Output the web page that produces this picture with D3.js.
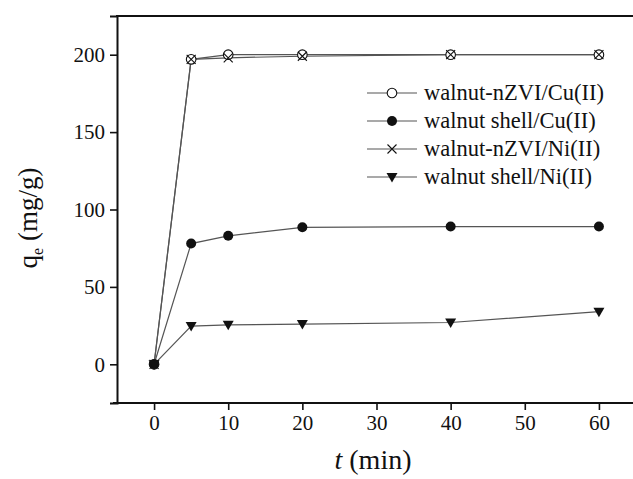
<!DOCTYPE html>
<html>
<head>
<meta charset="utf-8">
<script src="https://cdn.jsdelivr.net/npm/d3@7"></script>
<style>
  html, body { margin: 0; padding: 0; background: #fff; }
  svg { display: block; }
  svg text { font-family: "Liberation Serif", "DejaVu Serif", serif; }
</style>
</head>
<body>
<svg id="chart" width="633" height="479"></svg>
<script>
// time points (min)
const times = [0, 5, 10, 20, 40, 60];

// adsorption capacity q_e (mg/g)
const nzviCu = [0, 197, 200, 200, 200, 200];
const shellCu = [0, 78, 83, 88.5, 89, 89];
const nzviNi = [0, 197, 198, 199, 200, 200];
const shellNi = [0, 24.7, 25.5, 26, 27, 34];

const seriesNames = [
  "walnut-nZVI/Cu(II)",
  "walnut shell/Cu(II)",
  "walnut-nZVI/Ni(II)",
  "walnut shell/Ni(II)"
];
const seriesSymbols = ["openCircle", "circle", "cross", "triangleDown"];

const xTicks = [0, 10, 20, 30, 40, 50, 60];
const yTicks = [0, 50, 100, 150, 200];

const FONT = "'Liberation Serif', 'DejaVu Serif', serif";

const svg = d3.select("#chart");

const margin = { left: 117, top: 16, right: -3, bottom: 76 };
const width = 633, height = 479;

const x = d3.scaleLinear().domain([-5, 65]).range([margin.left, width - margin.right]);
const y = d3.scaleLinear().domain([-25, 225]).range([height - margin.bottom, margin.top]);

const series = [nzviCu, shellCu, nzviNi, shellNi].map((vals, i) => ({
  name: seriesNames[i],
  symbol: seriesSymbols[i],
  points: times.map((t, j) => ({ t, q: vals[j] }))
}));

// axes
const xAxis = d3.axisBottom(x).tickValues(xTicks).tickSize(7).tickPadding(5).tickFormat(d3.format("d"));
const xMinor = d3.axisBottom(x).tickValues(d3.range(-5, 66, 10)).tickSize(4).tickFormat("");
const yAxis = d3.axisLeft(y).tickValues(yTicks).tickSize(7).tickPadding(5).tickFormat(d3.format("d"));
const yMinor = d3.axisLeft(y).tickValues(d3.range(-25, 226, 50)).tickSize(4).tickFormat("");

const gx = svg.append("g").attr("transform", `translate(0,${y.range()[0]})`);
gx.call(xMinor);
gx.call(xAxis);
const gy = svg.append("g").attr("transform", `translate(${margin.left},0)`);
gy.call(yMinor);
gy.call(yAxis);

[gx, gy].forEach(g => {
  g.attr("font-family", FONT).attr("font-size", 21);
  g.selectAll(".domain").attr("stroke", "#111").attr("stroke-width", 2);
  g.selectAll(".tick line").attr("stroke", "#111").attr("stroke-width", 1.6);
  g.selectAll(".tick text")
    .attr("fill", "#111")
    .attr("font-family", FONT)
    .attr("font-size", 21);
});
gx.select(".domain").attr("d", `M${x.range()[0] - 4},0H${x.range()[1]}`);

// top frame
svg.append("line")
  .attr("x1", margin.left - 1).attr("x2", width)
  .attr("y1", margin.top).attr("y2", margin.top)
  .attr("stroke", "#111").attr("stroke-width", 2.2);

// axis titles
svg.append("text")
  .attr("transform", "translate(37,218) rotate(-90)")
  .attr("text-anchor", "middle")
  .attr("fill", "#111")
  .attr("font-family", FONT)
  .attr("font-size", 27)
  .html('q<tspan dy="6" font-size="16">e</tspan><tspan dy="-6"> (mg/g)</tspan>');

svg.append("text")
  .attr("x", 373)
  .attr("y", 469)
  .attr("text-anchor", "middle")
  .attr("fill", "#111")
  .attr("font-family", FONT)
  .attr("font-size", 28)
  .html('<tspan font-style="italic">t</tspan> (min)');

// symbols
function drawSymbol(g, type) {
  if (type === "openCircle") {
    g.append("circle").attr("r", 4.8).attr("fill", "#fff").attr("stroke", "#111").attr("stroke-width", 1.1);
  } else if (type === "circle") {
    g.append("circle").attr("r", 5).attr("fill", "#111");
  } else if (type === "cross") {
    g.append("path").attr("d", "M-4.5,-4.5L4.5,4.5M-4.5,4.5L4.5,-4.5")
      .attr("stroke", "#111").attr("stroke-width", 1.1).attr("fill", "none");
  } else if (type === "triangleDown") {
    g.append("path").attr("d", "M-5.5,-4L5.5,-4L0,5.5Z").attr("fill", "#111");
  }
}

const line = d3.line().x(d => x(d.t)).y(d => y(d.q));

const plot = svg.append("g");
series.forEach(s => {
  plot.append("path")
    .datum(s.points)
    .attr("d", line)
    .attr("fill", "none")
    .attr("stroke", "#555")
    .attr("stroke-width", 1.2);
});
series.forEach(s => {
  s.points.forEach(p => {
    const g = plot.append("g").attr("transform", `translate(${x(p.t)},${y(p.q)})`);
    drawSymbol(g, s.symbol);
  });
});

// legend
const legend = svg.append("g").attr("transform", "translate(367,93)");
series.forEach((s, i) => {
  const row = legend.append("g").attr("transform", `translate(0,${i * 28})`);
  row.append("line").attr("x1", 0).attr("x2", 50).attr("y1", 0).attr("y2", 0)
    .attr("stroke", "#555").attr("stroke-width", 1.2);
  drawSymbol(row.append("g").attr("transform", "translate(25,0)"), s.symbol);
  row.append("text")
    .attr("x", 57).attr("y", 7)
    .attr("fill", "#111")
    .attr("font-family", FONT)
    .attr("font-size", 22.5)
    .text(s.name);
});
</script>
</body>
</html>
